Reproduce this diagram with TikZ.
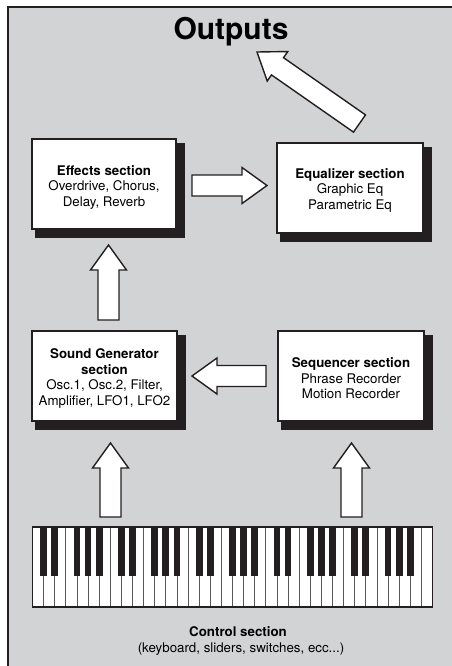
\documentclass[tikz,border=0pt]{standalone}
\usepackage{fontspec}
\setmainfont{TeX Gyre Heros}
\usetikzlibrary{calc,backgrounds}
\definecolor{bggray}{RGB}{209,211,212}
\definecolor{ink}{RGB}{35,31,32}
\newcommand\txt{\fontsize{13.3}{15.5}\selectfont}
% block arrow from tail (#1) to tip (#2)
\newcommand\blockarrow[2]{%
  \coordinate (ba-base) at ($(#2)!25pt!(#1)$);
  \draw[barrow] ($(#1)!10.5pt!90:(#2)$) -- ($(ba-base)!10.5pt!90:(#2)$)
    -- ($(ba-base)!18pt!90:(#2)$) -- (#2) -- ($(ba-base)!18pt!-90:(#2)$)
    -- ($(ba-base)!10.5pt!-90:(#2)$) -- ($(#1)!10.5pt!-90:(#2)$) -- cycle;}
\begin{document}
\begin{tikzpicture}[x=1pt,y=-1pt,
  box/.style={draw=ink,line width=1.4pt,fill=white,inner sep=0pt,minimum height=90pt},
  boxtext/.style={align=center,font=\txt,inner sep=0pt},
  barrow/.style={draw=ink,line width=1.4pt,fill=white,line join=miter},
  shadowc/.style={fill=ink}]
\useasboundingbox (0,0) rectangle (452,666);
\begin{scope}[on background layer]
  \fill[bggray] (8,7) rectangle (452,666);
  \draw[ink,line width=1.3pt] (452,7) -- (8,7) -- (8,666);
\end{scope}

% title
\node[font=\fontsize{30}{36}\selectfont\bfseries,anchor=base] (out) at (231,40) {Outputs};

% section boxes
\node[box,minimum width=144pt] (fx) at (104,184) {};
\node[box,minimum width=146pt] (eq) at (350,188) {};
\node[box,minimum width=145pt] (sg) at (104.5,376) {};
\node[box,minimum width=146pt] (seq) at (351,376) {};
\node[boxtext] (fxt) at ($(fx.center)+(0,3)$) {\textbf{Effects section}\\Overdrive, Chorus,\\Delay, Reverb};
\node[boxtext] (eqt) at ($(eq.center)+(0,2)$) {\textbf{Equalizer section}\\Graphic Eq\\Parametric Eq};
\node[boxtext] (sgt) at ($(sg.center)+(0,2.5)$) {\textbf{Sound Generator}\\\textbf{section}\\Osc.1, Osc.2, Filter,\\Amplifier, LFO1, LFO2};
\node[boxtext] (seqt) at ($(seq.center)+(0,2.5)$) {\textbf{Sequencer section}\\Phrase Recorder\\Motion Recorder};

\begin{scope}[on background layer]
  \foreach \b in {fx,eq,sg,seq}
    \fill[shadowc] ($(\b.south west)+(4,8)$) rectangle ($(\b.north east)+(8,5)$);
\end{scope}

% keyboard
\node[draw=ink,line width=1.2pt,fill=white,minimum width=400pt,minimum height=80pt,inner sep=0pt,outer sep=0pt] (kb) at (232.5,567) {};
\foreach \k in {1,...,35}
  \draw[ink!75,line width=0.7pt] ($(kb.north west)+(\k*11.111,0)$) -- ($(kb.south west)+(\k*11.111,0)$);
\foreach \k in {1,...,35}{
  \pgfmathtruncatemacro\m{mod(\k,7)}
  \ifnum\m=0\else\ifnum\m=3\else
    \fill[ink] ($(kb.north west)+(\k*11.111-3.35,0)$) rectangle ($(kb.north west)+(\k*11.111+3.35,49)$);
  \fi\fi}
\draw[ink,line width=1.2pt] (kb.north west) rectangle (kb.south east);

% control text
\node[font=\txt\bfseries,anchor=base] (ctl) at (238,636) {Control section};
\node[font=\txt,anchor=base] (ctl2) at (241,652) {(keyboard, sliders, switches, ecc...)};

% arrow end points
\coordinate (a1t) at (192,185.5);  \coordinate (a1h) at (267,185.5);
\coordinate (a2t) at (108.5,320);  \coordinate (a2h) at (108.5,245);
\coordinate (a3t) at (266,376);    \coordinate (a3h) at (192,376);
\coordinate (a4t) at (110.5,517);  \coordinate (a4h) at (110.5,443);
\coordinate (a5t) at (351.5,517);  \coordinate (a5h) at (351.5,443);
\coordinate (a6t) at (359.5,123.5);\coordinate (a6h) at (257,52);

\blockarrow{a1t}{a1h}
\blockarrow{a2t}{a2h}
\blockarrow{a3t}{a3h}
\blockarrow{a4t}{a4h}
\blockarrow{a5t}{a5h}
\blockarrow{a6t}{a6h}
\end{tikzpicture}
\end{document}
